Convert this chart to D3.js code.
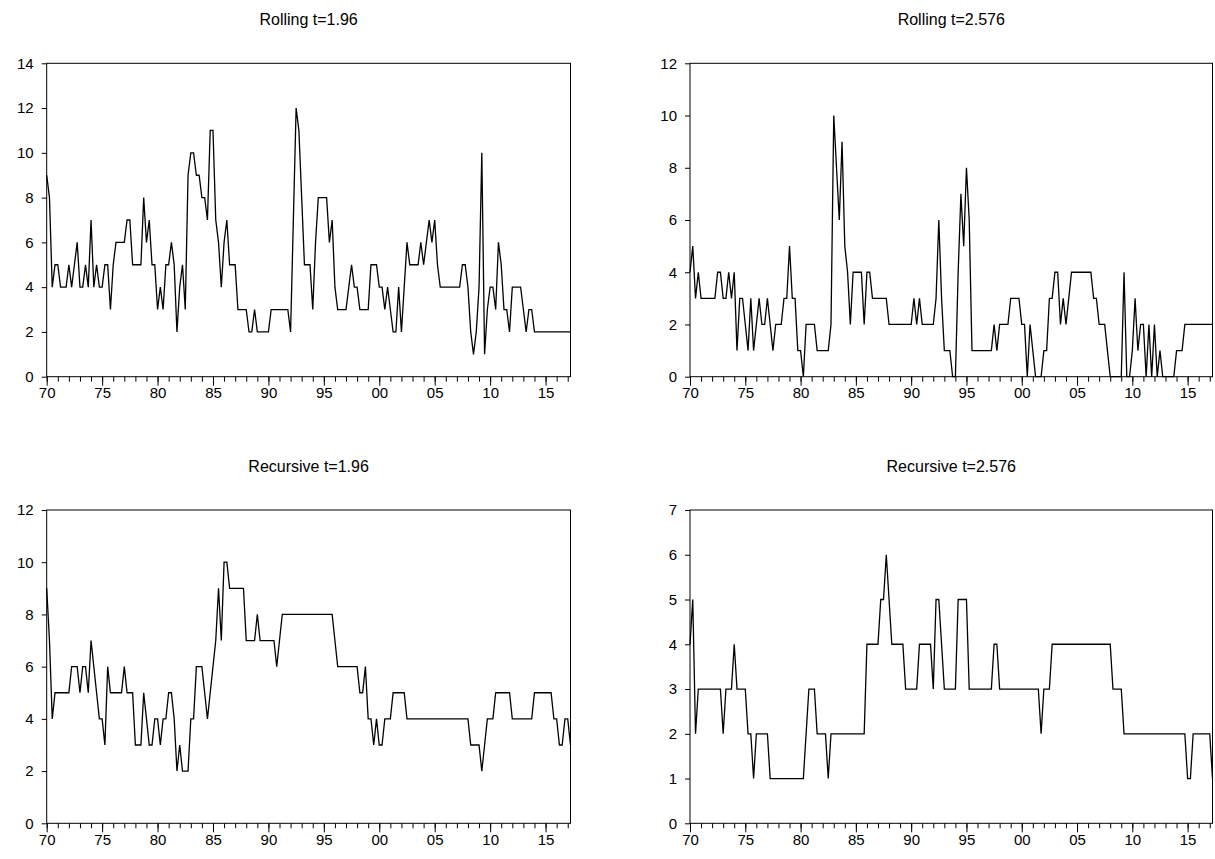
<!DOCTYPE html>
<html>
<head>
<meta charset="utf-8">
<script src="https://cdnjs.cloudflare.com/ajax/libs/d3/7.8.5/d3.min.js"></script>
<style>
body { margin: 0; background: #fff; }
svg { display: block; font-family: Arial, "Liberation Sans", sans-serif; }
</style>
</head>
<body>
<svg id="chart" width="1215" height="859"></svg>
<script>
// quarterly counts, 1970Q1 .. 2017Q2
var startYear = 1970;

var rolling196 = [
  9,8,4,5,5,4,4,4,5,4, 5,6,4,4,5,4,7,4,5,4, 4,5,5,3,5,6,6,6,6,7, 7,5,5,5,5,8,6,7,5,5,
  3,4,3,5,5,6,5,2,4,5, 3,9,10,10,9,9,8,8,7,11, 11,7,6,4,6,7,5,5,5,3, 3,3,3,2,2,3,2,2,2,2,
  2,3,3,3,3,3,3,3,2,7, 12,11,8,5,5,5,3,6,8,8, 8,8,6,7,4,3,3,3,3,4, 5,4,4,3,3,3,3,5,5,5,
  4,4,3,4,3,2,2,4,2,4, 6,5,5,5,5,6,5,6,7,6, 7,5,4,4,4,4,4,4,4,4, 5,5,4,2,1,2,4,10,1,3,
  4,4,3,6,5,3,3,2,4,4, 4,4,3,2,3,3,2,2,2,2, 2,2,2,2,2,2,2,2,2,2
];

var rolling2576 = [
  4,5,3,4,3,3,3,3,3,3, 4,4,3,3,4,3,4,1,3,3, 2,1,3,1,2,3,2,2,3,2, 1,2,2,2,3,3,5,3,3,1,
  1,0,2,2,2,2,1,1,1,1, 1,2,10,8,6,9,5,4,2,4, 4,4,4,2,4,4,3,3,3,3, 3,3,2,2,2,2,2,2,2,2,
  2,3,2,3,2,2,2,2,2,3, 6,3,1,1,1,0,0,4,7,5, 8,6,1,1,1,1,1,1,1,1, 2,1,2,2,2,2,3,3,3,3,
  2,2,0,2,1,0,0,0,1,1, 3,3,4,4,2,3,2,3,4,4, 4,4,4,4,4,4,3,3,2,2, 2,1,0,0,0,0,0,4,0,0,
  1,3,1,2,2,0,2,0,2,0, 1,0,0,0,0,0,1,1,1,2, 2,2,2,2,2,2,2,2,2,2
];

var recursive196 = [
  9,7,4,5,5,5,5,5,5,6, 6,6,5,6,6,5,7,6,5,4, 4,3,6,5,5,5,5,5,6,5, 5,5,3,3,3,5,4,3,3,4,
  4,3,4,4,5,5,4,2,3,2, 2,2,4,4,6,6,6,5,4,5, 6,7,9,7,10,10,9,9,9,9, 9,9,7,7,7,7,8,7,7,7,
  7,7,7,6,7,8,8,8,8,8, 8,8,8,8,8,8,8,8,8,8, 8,8,8,8,7,6,6,6,6,6, 6,6,6,5,5,6,4,4,3,4,
  3,3,4,4,4,5,5,5,5,5, 4,4,4,4,4,4,4,4,4,4, 4,4,4,4,4,4,4,4,4,4, 4,4,4,3,3,3,3,2,3,4,
  4,4,5,5,5,5,5,5,4,4, 4,4,4,4,4,4,5,5,5,5, 5,5,5,4,4,3,3,4,4,3
];

var recursive2576 = [
  4,5,2,3,3,3,3,3,3,3, 3,3,2,3,3,3,4,3,3,3, 3,2,2,1,2,2,2,2,2,1, 1,1,1,1,1,1,1,1,1,1,
  1,1,2,3,3,3,2,2,2,2, 1,2,2,2,2,2,2,2,2,2, 2,2,2,2,4,4,4,4,4,5, 5,6,5,4,4,4,4,4,3,3,
  3,3,3,4,4,4,4,4,3,5, 5,4,3,3,3,3,3,5,5,5, 5,3,3,3,3,3,3,3,3,3, 4,4,3,3,3,3,3,3,3,3,
  3,3,3,3,3,3,3,2,3,3, 3,4,4,4,4,4,4,4,4,4, 4,4,4,4,4,4,4,4,4,4, 4,4,4,3,3,3,3,2,2,2,
  2,2,2,2,2,2,2,2,2,2, 2,2,2,2,2,2,2,2,2,2, 1,1,2,2,2,2,2,2,2,1
];

var titles = ["Rolling t=1.96", "Rolling t=2.576", "Recursive t=1.96", "Recursive t=2.576"];
var yMaxes = [14, 12, 12, 7];
var yStepsPerPanel = [2, 2, 2, 1];

var layout = {
  cols: [[46.7, 570.5], [690, 1212.5]],
  rows: [[63.3, 376.7], [510, 823.3]]
};

var svg = d3.select("#chart");

function drawPanel(svg, sett, values) {
  var endYear = startYear + (values.length - 1) / 4,
    x = d3.scaleLinear().domain([startYear, endYear]).range([sett.left, sett.right]),
    y = d3.scaleLinear().domain([0, sett.yMax]).range([sett.bottom, sett.top]),
    years = d3.range(startYear, Math.floor(endYear) + 1),
    majors = years.filter(function(yr) { return yr % 5 === 0; }),
    g = svg.append("g"),
    line = d3.line()
      .x(function(d, i) { return x(startYear + i / 4); })
      .y(function(d) { return y(d); });

  g.append("text")
    .attr("x", (sett.left + sett.right) / 2)
    .attr("y", sett.top - 38.5)
    .attr("text-anchor", "middle")
    .attr("fill", "#000")
    .style("font-size", "16px")
    .text(sett.title);

  // minor year ticks
  g.append("g")
    .attr("transform", "translate(0," + sett.bottom + ")")
    .call(d3.axisBottom(x).tickValues(years).tickSize(5).tickFormat(""))
    .call(function(a) { a.select(".domain").remove(); });

  // labelled ticks every five years
  g.append("g")
    .attr("transform", "translate(0," + sett.bottom + ")")
    .call(d3.axisBottom(x).tickValues(majors).tickSize(9).tickPadding(2)
      .tickFormat(function(yr) { return d3.format("02d")(yr % 100); }))
    .call(function(a) { a.select(".domain").remove(); });

  g.append("g")
    .attr("transform", "translate(" + sett.left + ",0)")
    .call(d3.axisLeft(y).tickValues(d3.range(0, sett.yMax + 0.001, sett.yStep))
      .tickSize(5).tickPadding(8).tickFormat(d3.format("d")))
    .call(function(a) { a.select(".domain").remove(); });

  g.selectAll(".tick line").attr("stroke", "#000");
  g.selectAll(".tick text").attr("fill", "#000").style("font-size", "15px");

  g.append("rect")
    .attr("x", sett.left)
    .attr("y", sett.top)
    .attr("width", sett.right - sett.left)
    .attr("height", sett.bottom - sett.top)
    .attr("fill", "none")
    .attr("stroke", "#000")
    .attr("stroke-width", 1);

  g.append("path")
    .datum(values)
    .attr("fill", "none")
    .attr("stroke", "#000")
    .attr("stroke-width", 1.3)
    .attr("stroke-linejoin", "miter")
    .attr("d", line);
}

[rolling196, rolling2576, recursive196, recursive2576].forEach(function(values, k) {
  var col = layout.cols[k % 2], row = layout.rows[Math.floor(k / 2)];
  drawPanel(svg, {
    title: titles[k],
    yMax: yMaxes[k],
    yStep: yStepsPerPanel[k],
    left: col[0], right: col[1],
    top: row[0], bottom: row[1]
  }, values);
});
</script>
</body>
</html>
